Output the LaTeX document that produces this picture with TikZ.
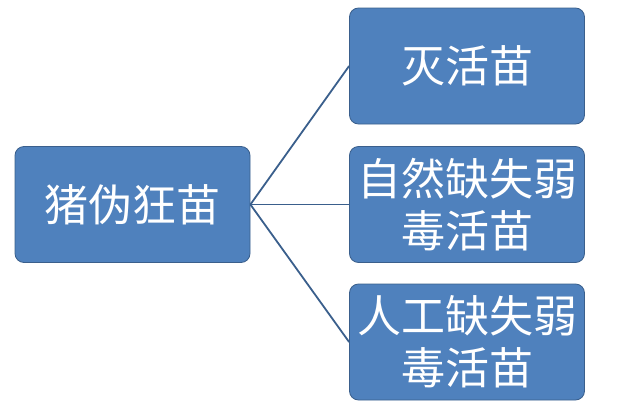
\documentclass[tikz,border=0pt]{standalone}
\usepackage{fontspec}
\newfontfamily\cjk{Noto Sans CJK SC}
\usetikzlibrary{positioning}
\definecolor{boxblue}{HTML}{4F81BD}
\definecolor{edgeblue}{HTML}{3A5F8C}
\tikzset{
  vbox/.style={draw=edgeblue, fill=boxblue, rounded corners=9pt, minimum width=235pt,
    minimum height=116pt, text=white, align=center, font=\cjk\fontsize{44}{52}\selectfont, line width=0.8pt, inner sep=0pt},
  link/.style={draw=edgeblue, line width=1.8pt}
}
\begin{document}
\begin{tikzpicture}[x=1pt,y=-1pt]
	\useasboundingbox (0,0) rectangle (622,407);
	\node[vbox] (root) at (132.5,204.5) {猪伪狂苗};
	\node[vbox] (kill) at (467,66) {灭活苗};
	\node[vbox] (natural) at (467,204.5) {自然缺失弱\\毒活苗};
	\node[vbox] (manual) at (467,342) {人工缺失弱\\毒活苗};
	\coordinate (hub) at (root.east);
	\foreach \t in {kill, natural, manual}
	\draw[link] (hub) -- (\t.west);
\end{tikzpicture}
\end{document}
